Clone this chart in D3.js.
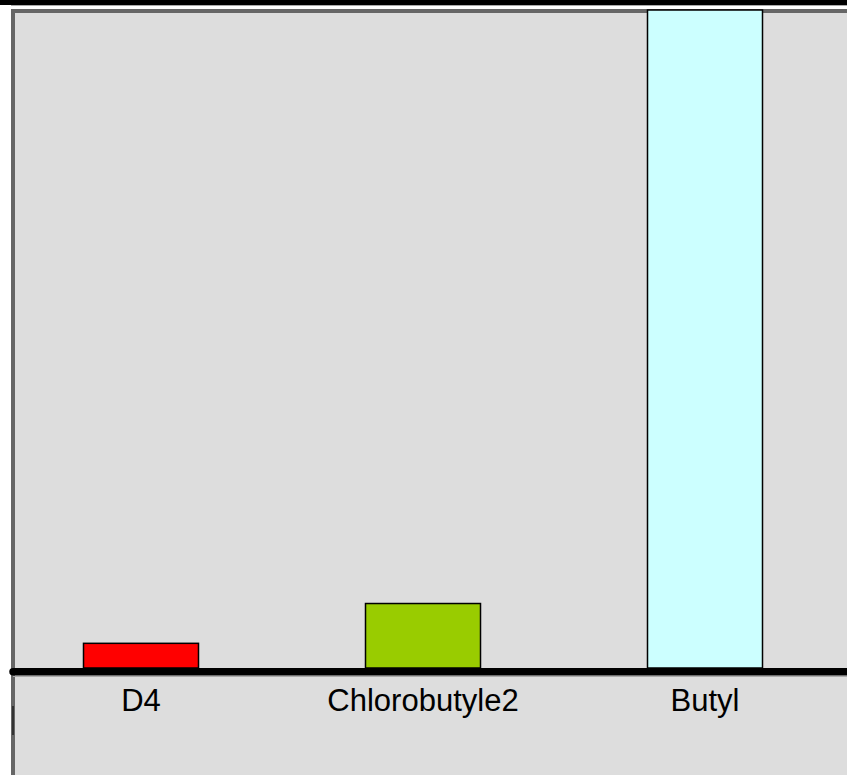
<!DOCTYPE html>
<html>
<head>
<meta charset="utf-8">
<script src="https://cdn.jsdelivr.net/npm/d3@7"></script>
<style>
  html, body { margin: 0; padding: 0; background: #ffffff; }
  svg { display: block; }
</style>
</head>
<body>
<svg id="svg1"></svg>
<script>
const width = 847;
const height = 775;

const categories = ["D4", "Chlorobutyle2", "Butyl"];
const values = [0.375, 0.98, 10];
const colors = ["#ff0000", "#99cc00", "#ccffff"];

const plotLeft = 11;
const plotTop = 9;
const baseY = 668;
const barWidth = 115;

const svg = d3.select("#svg1")
    .attr("width", width)
    .attr("height", height);

// top black band + thin rule
svg.append("rect")
    .attr("x", 0).attr("y", 0)
    .attr("width", width).attr("height", 5)
    .attr("fill", "#000");

svg.append("rect")
    .attr("x", plotLeft).attr("y", 5)
    .attr("width", width - plotLeft).attr("height", 1)
    .attr("fill", "#aaaaaa");

// plot area with dark frame on top and left
svg.append("rect")
    .attr("x", plotLeft).attr("y", plotTop)
    .attr("width", width - plotLeft).attr("height", height - plotTop)
    .attr("fill", "#666666");

svg.append("rect")
    .attr("x", plotLeft + 4).attr("y", plotTop + 4)
    .attr("width", width - plotLeft - 4).attr("height", height - plotTop - 4)
    .attr("fill", "#dddddd");

svg.append("line")
    .attr("x1", 13).attr("x2", 13)
    .attr("y1", 706).attr("y2", 735)
    .attr("stroke", "#222")
    .attr("stroke-width", 1.5);

const xScale = d3.scalePoint()
    .domain(categories)
    .range([0, width - 1])
    .padding(0.5);

const yScale = d3.scaleLinear()
    .domain([0, 10])
    .range([baseY, 10]);

svg.selectAll(".bar")
    .data(categories)
    .enter().append("rect")
    .attr("class", "bar")
    .attr("x", function(d) { return xScale(d) - barWidth / 2; })
    .attr("y", function(d, i) { return yScale(values[i]); })
    .attr("width", barWidth)
    .attr("height", function(d, i) { return baseY - yScale(values[i]); })
    .attr("fill", function(d, i) { return colors[i]; })
    .attr("stroke", "#000")
    .attr("stroke-width", 1.5);

// baseline
svg.append("line")
    .attr("x1", plotLeft + 2).attr("x2", width + 10)
    .attr("y1", 676.5).attr("y2", 676.5)
    .attr("stroke", "#aaaaaa")
    .attr("stroke-width", 1);

svg.append("line")
    .attr("x1", 13).attr("x2", width + 10)
    .attr("y1", baseY + 3.8).attr("y2", baseY + 3.8)
    .attr("stroke", "#000")
    .attr("stroke-width", 7.5)
    .attr("stroke-linecap", "round");

svg.selectAll(".label")
    .data(categories)
    .enter().append("text")
    .attr("class", "label")
    .attr("x", function(d) { return xScale(d); })
    .attr("y", 711)
    .attr("text-anchor", "middle")
    .attr("font-family", "Liberation Sans, Arial, sans-serif")
    .attr("font-size", "31px")
    .attr("fill", "#000")
    .text(function(d) { return d; });
</script>
</body>
</html>
